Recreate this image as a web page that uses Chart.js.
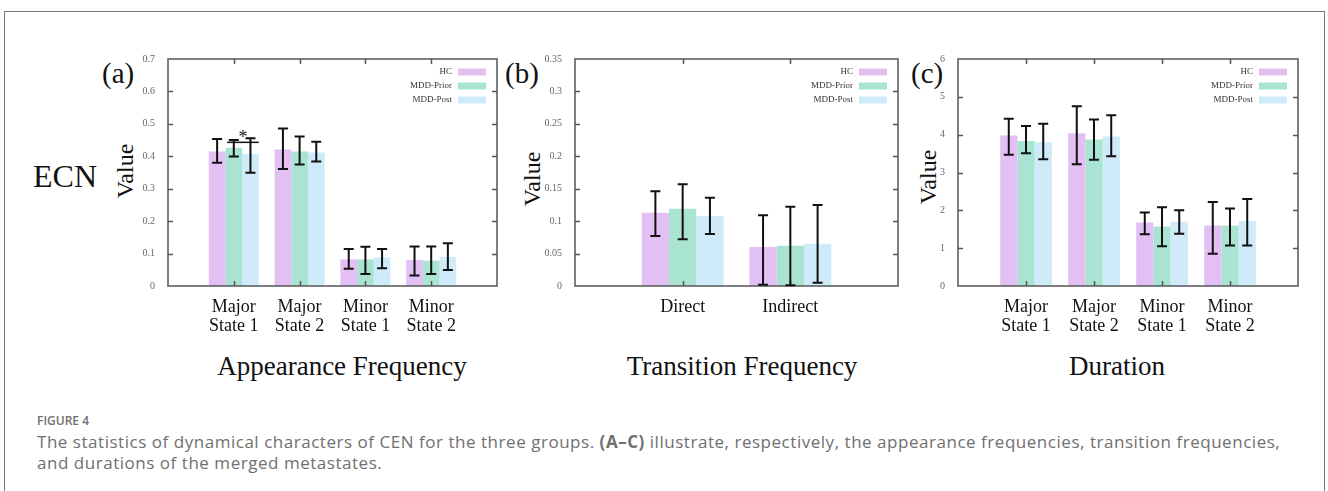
<!DOCTYPE html>
<html>
<head>
<meta charset="utf-8">
<script src="https://cdn.jsdelivr.net/npm/chart.js@4.4.1/dist/chart.umd.min.js"></script>
<style>
  body { margin: 0; background: #fff; width: 1328px; height: 491px; overflow: hidden; position: relative;
         font-family: 'Liberation Serif', 'Times New Roman', serif; }
  .frame { position: absolute; left: 4px; top: 11px; width: 1321px; height: 520px; border: 1px solid #777; box-sizing: border-box; }
  canvas { position: absolute; }
  .txt { position: absolute; line-height: 1; color: #111; white-space: nowrap; }
  .ylab { position: absolute; width: 100px; height: 24px; font-size: 24px; line-height: 24px; text-align: center;
          color: #111; transform: rotate(-90deg); }
  .xtitle { position: absolute; width: 400px; text-align: center; font-size: 27px; line-height: 1; color: #111; }
  .cap { position: absolute; left: 37px; font-family: 'Open Sans', Lato, sans-serif; color: #707070; white-space: nowrap; }
</style>
</head>
<body>
<div class="frame"></div>

<div class="txt" style="left:102px;top:59px;font-size:29px">(a)</div>
<div class="txt" style="left:505px;top:59px;font-size:29px">(b)</div>
<div class="txt" style="left:911px;top:59px;font-size:29px">(c)</div>
<div class="txt" style="left:33px;top:160px;font-size:32px">ECN</div>

<div class="ylab" style="left:75px;top:159px">Value</div>
<div class="ylab" style="left:482px;top:167px">Value</div>
<div class="ylab" style="left:878px;top:165px">Value</div>

<canvas id="appear" width="387" height="292" style="left:118px;top:48px"></canvas>
<canvas id="trans" width="381" height="292" style="left:525px;top:48px"></canvas>
<canvas id="dur" width="398" height="292" style="left:908px;top:48px"></canvas>

<div class="xtitle" style="left:142px;top:353px">Appearance Frequency</div>
<div class="xtitle" style="left:542px;top:353px">Transition Frequency</div>
<div class="xtitle" style="left:917px;top:353px">Duration</div>

<div class="cap" style="top:414px;font-size:12px;line-height:14px;font-weight:600">FIGURE 4</div>
<div class="cap" style="top:431px;font-size:17px;line-height:21px;letter-spacing:0.53px">The statistics of dynamical characters of CEN for the three groups. <b>(A–C)</b> illustrate, respectively, the appearance frequencies, transition frequencies,<br>and durations of the merged metastates.</div>

<script>
const groups = ['HC', 'MDD-Prior', 'MDD-Post'];
const groupColors = ['#e3c0f4', '#a9e3d2', '#cfeaf8'];

const stateCats = [['Major', 'State 1'], ['Major', 'State 2'], ['Minor', 'State 1'], ['Minor', 'State 2']];
const transCats = ['Direct', 'Indirect'];

// appearance frequency (mean, then [low, high] of the error bar)
const appearHC    = [0.415, 0.421, 0.082, 0.080];
const appearPrior = [0.426, 0.415, 0.082, 0.078];
const appearPost  = [0.407, 0.412, 0.088, 0.090];
const appearHCErr    = [[0.380, 0.453], [0.361, 0.486], [0.053, 0.114], [0.032, 0.122]];
const appearPriorErr = [[0.399, 0.450], [0.375, 0.461], [0.037, 0.121], [0.037, 0.122]];
const appearPostErr  = [[0.349, 0.456], [0.384, 0.445], [0.055, 0.114], [0.049, 0.132]];

// transition frequency
const transHC    = [0.113, 0.060];
const transPrior = [0.119, 0.062];
const transPost  = [0.108, 0.065];
const transHCErr    = [[0.077, 0.146], [0.002, 0.109]];
const transPriorErr = [[0.072, 0.157], [0.001, 0.122]];
const transPostErr  = [[0.080, 0.136], [0.005, 0.125]];

// duration
const durHC    = [3.98, 4.04, 1.68, 1.60];
const durPrior = [3.83, 3.87, 1.57, 1.60];
const durPost  = [3.80, 3.95, 1.70, 1.72];
const durHCErr    = [[3.47, 4.42], [3.22, 4.75], [1.37, 1.94], [0.85, 2.22]];
const durPriorErr = [[3.51, 4.23], [3.34, 4.40], [1.05, 2.08], [1.07, 2.05]];
const durPostErr  = [[3.35, 4.29], [3.43, 4.51], [1.38, 2.00], [1.07, 2.30]];

// significance bracket: category index, the two groups it joins, height
const appearSig = [{ cat: 0, from: 1, to: 2, value: 0.443 }];

const serif = "'Liberation Serif', 'Times New Roman', serif";

// plot box with inward ticks on all four sides
const framePlugin = {
  id: 'frame',
  afterDatasetsDraw(chart) {
    const { ctx, chartArea: a, scales: { x, y } } = chart;
    ctx.save();
    ctx.strokeStyle = '#555';
    ctx.lineWidth = 1.5;
    ctx.strokeRect(a.left, a.top, a.right - a.left, a.bottom - a.top);
    ctx.beginPath();
    y.ticks.forEach((t, i) => {
      if (i === 0 || i === y.ticks.length - 1) return;
      const py = Math.round(y.getPixelForTick(i)) + 0.5;
      ctx.moveTo(a.left, py); ctx.lineTo(a.left + 5, py);
      ctx.moveTo(a.right, py); ctx.lineTo(a.right - 5, py);
    });
    x.ticks.forEach((t, i) => {
      if (!chart.data.labels[i]) return;
      const px = Math.round(x.getPixelForTick(i)) + 0.5;
      ctx.moveTo(px, a.top); ctx.lineTo(px, a.top + 5);
      ctx.moveTo(px, a.bottom); ctx.lineTo(px, a.bottom - 5);
    });
    ctx.stroke();
    ctx.restore();
  }
};

const errorPlugin = {
  id: 'errorBars',
  afterDatasetsDraw(chart) {
    const { ctx, scales: { y } } = chart;
    ctx.save();
    ctx.strokeStyle = '#111';
    ctx.lineWidth = 2;
    chart.data.datasets.forEach((ds, di) => {
      const meta = chart.getDatasetMeta(di);
      meta.data.forEach((bar, i) => {
        const e = ds.errorBars[i];
        if (!e) return;
        const lo = y.getPixelForValue(e[0]);
        const hi = y.getPixelForValue(e[1]);
        ctx.beginPath();
        ctx.moveTo(bar.x, lo); ctx.lineTo(bar.x, hi);
        ctx.moveTo(bar.x - 5, lo); ctx.lineTo(bar.x + 5, lo);
        ctx.moveTo(bar.x - 5, hi); ctx.lineTo(bar.x + 5, hi);
        ctx.stroke();
      });
    });
    ctx.restore();
  }
};

// legend inside the plot, text right-aligned before the swatch
const boxLegend = {
  id: 'boxLegend',
  afterDatasetsDraw(chart) {
    const { ctx, chartArea: a } = chart;
    ctx.save();
    ctx.font = '9px ' + serif;
    ctx.textAlign = 'right';
    ctx.textBaseline = 'middle';
    chart.data.datasets.forEach((ds, i) => {
      const cy = a.top + 13 + i * 14;
      ctx.fillStyle = ds.backgroundColor;
      ctx.fillRect(a.right - 39, cy - 3.5, 28, 7);
      ctx.fillStyle = '#333';
      ctx.fillText(ds.label, a.right - 45, cy);
    });
    ctx.restore();
  }
};

function sigPlugin(marks) {
  return {
    id: 'sigMarks',
    afterDatasetsDraw(chart) {
      const { ctx, scales: { y } } = chart;
      ctx.save();
      ctx.strokeStyle = '#111';
      ctx.lineWidth = 1.5;
      ctx.fillStyle = '#111';
      marks.forEach(m => {
        const b1 = chart.getDatasetMeta(m.from).data[m.cat + 1];
        const b2 = chart.getDatasetMeta(m.to).data[m.cat + 1];
        const x1 = b1.x - b1.width * 0.4;
        const x2 = b2.x + b2.width * 0.5;
        const py = y.getPixelForValue(m.value);
        ctx.beginPath();
        ctx.moveTo(x1, py); ctx.lineTo(x2, py);
        ctx.stroke();
        ctx.font = '18px ' + serif;
        ctx.textAlign = 'center';
        ctx.textBaseline = 'alphabetic';
        ctx.fillText('*', (x1 + x2) / 2, py + 1);
      });
      ctx.restore();
    }
  };
}

// categories sit one unit in from each side of the box, so pad with empty slots
function makePanel(id, cats, series, errs, yMax, yStep, extra) {
  const labels = ['', ...cats, ''];
  new Chart(document.getElementById(id), {
    type: 'bar',
    data: {
      labels,
      datasets: series.map((s, i) => ({
        label: groups[i],
        data: [null, ...s, null],
        errorBars: [null, ...errs[i], null],
        backgroundColor: groupColors[i],
        borderWidth: 0,
        categoryPercentage: 0.76,
        barPercentage: 1
      }))
    },
    options: {
      responsive: false,
      animation: false,
      devicePixelRatio: 1,
      layout: { padding: { top: 10, right: 8, left: 0, bottom: 0 } },
      plugins: { legend: { display: false }, tooltip: { enabled: false } },
      scales: {
        x: {
          offset: false,
          grid: { display: false },
          border: { display: false },
          ticks: { autoSkip: false, maxRotation: 0, padding: 3, color: '#111',
                   font: { family: serif, size: 18, lineHeight: 1.1 } },
          afterFit(s) { s.height = 54; }
        },
        y: {
          min: 0,
          max: yMax,
          grid: { display: false },
          border: { display: false },
          ticks: { stepSize: yStep, padding: 5, color: '#666', font: { family: serif, size: 10 },
                   callback: v => +v.toFixed(2) },
          afterFit(s) { s.width = 50; }
        }
      }
    },
    plugins: [framePlugin, errorPlugin, boxLegend, ...(extra || [])]
  });
}

makePanel('appear', stateCats, [appearHC, appearPrior, appearPost],
  [appearHCErr, appearPriorErr, appearPostErr], 0.7, 0.1, [sigPlugin(appearSig)]);
makePanel('trans', transCats, [transHC, transPrior, transPost],
  [transHCErr, transPriorErr, transPostErr], 0.35, 0.05);
makePanel('dur', stateCats, [durHC, durPrior, durPost],
  [durHCErr, durPriorErr, durPostErr], 6, 1);
</script>
</body>
</html>
